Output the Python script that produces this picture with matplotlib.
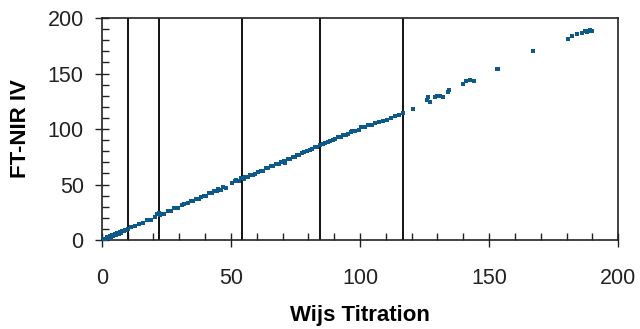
import numpy as np
import matplotlib.pyplot as plt
from matplotlib.ticker import MultipleLocator

plt.rcParams['font.family'] = ['Liberation Sans', 'DejaVu Sans']

# Wijs titration (x) vs FT-NIR IV (y)
wijs = [0.5, 1, 1.5, 2, 2.5, 3, 3.5, 4, 4.5, 5, 5.5, 6, 6.5, 7, 7.5, 8, 8.5, 9, 9.5, 10,
        11.5, 13, 14.5, 16, 17.5, 19, 20.5, 21.5, 22, 22.5, 23,
        24, 25.5, 27, 28, 29.5, 31, 32, 33.5, 34.5, 35.5, 36.5, 37.5, 38.5, 39.5, 40.5,
        41.5, 42.5, 43.5, 44.5, 45, 46, 47, 48,
        50.5, 51.5, 52, 53, 54, 55, 55.5, 56.5, 57.5, 58.5, 59.5, 60.5, 61.5, 62.5, 63.5,
        64.5, 65.5, 66.5, 67.5, 68.5, 69.5, 70.5, 71, 72, 73, 74, 75, 75.5, 76.5, 77.5,
        78.5, 79.5, 80.5, 81.5, 82.5, 83.5, 84.5, 85.5, 86.5, 87.5, 88.5, 89.5, 90.5,
        91.5, 92.5, 93.5, 94.5, 95.5, 96.5, 97, 98, 99.5, 100.5, 102, 103, 104.5, 106,
        107.5, 109, 110.5, 112, 113.5, 115, 116.5,
        120.5, 126, 126.5, 127, 129, 130, 131, 132, 134, 134.5, 140, 141, 142.5, 144,
        153, 153.5, 167, 180.5, 182, 184, 186, 187, 188, 189, 190, 188.5]
ftnir = [0.3, 1.2, 0.8, 2.5, 1.8, 3.4, 2.6, 4.1, 3.6, 5.2, 4.6, 6.3, 5.8, 7.4, 6.6, 8.5, 7.9, 9.3, 8.7, 10.2,
         11.8, 12.6, 14.8, 15.6, 17.9, 18.4, 20.9, 23, 24.5, 22.4, 23.8,
         23.6, 25.8, 26.5, 28.4, 29.1, 31.2, 32.8, 33.1, 35.2, 35, 37, 37.2, 38.9, 40.1, 40,
         42.2, 42, 43.8, 44.3, 46, 45.5, 47.5, 47.2,
         51.5, 52.8, 54, 53.5, 55.8, 55, 57, 56.8, 58.2, 59, 59.6, 61, 62, 62.4, 64.5,
         64.8, 66.3, 66.5, 68.4, 68.6, 70.6, 71.5, 69.8, 72.8, 73.4, 75.2, 75, 77, 76.8, 78.5,
         79.5, 80, 81.5, 82.2, 83.8, 84.2, 85.5, 86.6, 87, 88.5, 89.4, 90, 91.4,
         92.5, 92.8, 94.5, 95, 95.8, 97.2, 98.5, 98.2, 99.5, 101.6, 101.4, 103.2, 104, 105.3,
         106.8, 107.6, 108.4, 110.2, 111.6, 113, 114.5,
         118, 126, 128.5, 124.5, 129, 129.5, 130, 129, 133, 135, 141, 143.5, 144, 143,
         154, 154.5, 170, 181.5, 184, 185.5, 187, 188, 187.5, 189, 188.5, 188.8]

# vertical reference lines
vlines = [10.1, 22.1, 54.3, 84.5, 116.7]

fig = plt.figure(figsize=(6.4, 3.29), dpi=100)
ax = fig.add_axes([0.159, 0.2705, 0.807, 0.6745])

ax.scatter(wijs, ftnir, s=10, marker='s', color='#0d5a8a', linewidths=0, zorder=3)
for v in vlines:
    ax.axvline(v, color='#111111', lw=1.4, zorder=2)

ax.set_xlim(0, 200)
ax.set_ylim(0, 200)
ax.xaxis.set_major_locator(MultipleLocator(50))
ax.xaxis.set_minor_locator(MultipleLocator(10))
ax.yaxis.set_major_locator(MultipleLocator(50))
ax.yaxis.set_minor_locator(MultipleLocator(10))
ax.tick_params(which='major', direction='inout', length=10, width=1, labelsize=15.5,
               colors='#222222')
ax.tick_params(axis='x', which='major', pad=15)
ax.tick_params(axis='y', which='major', pad=8)
ax.tick_params(which='minor', direction='in', length=5, width=1, colors='#222222')
for sp in ax.spines.values():
    sp.set_linewidth(1.2)
    sp.set_color('#222222')

ax.set_xlabel('Wijs Titration', fontsize=16, fontweight='bold', labelpad=12)
ax.set_ylabel('FT-NIR IV', fontsize=16, fontweight='bold', labelpad=12)

fig.savefig('out.png', dpi=100)
